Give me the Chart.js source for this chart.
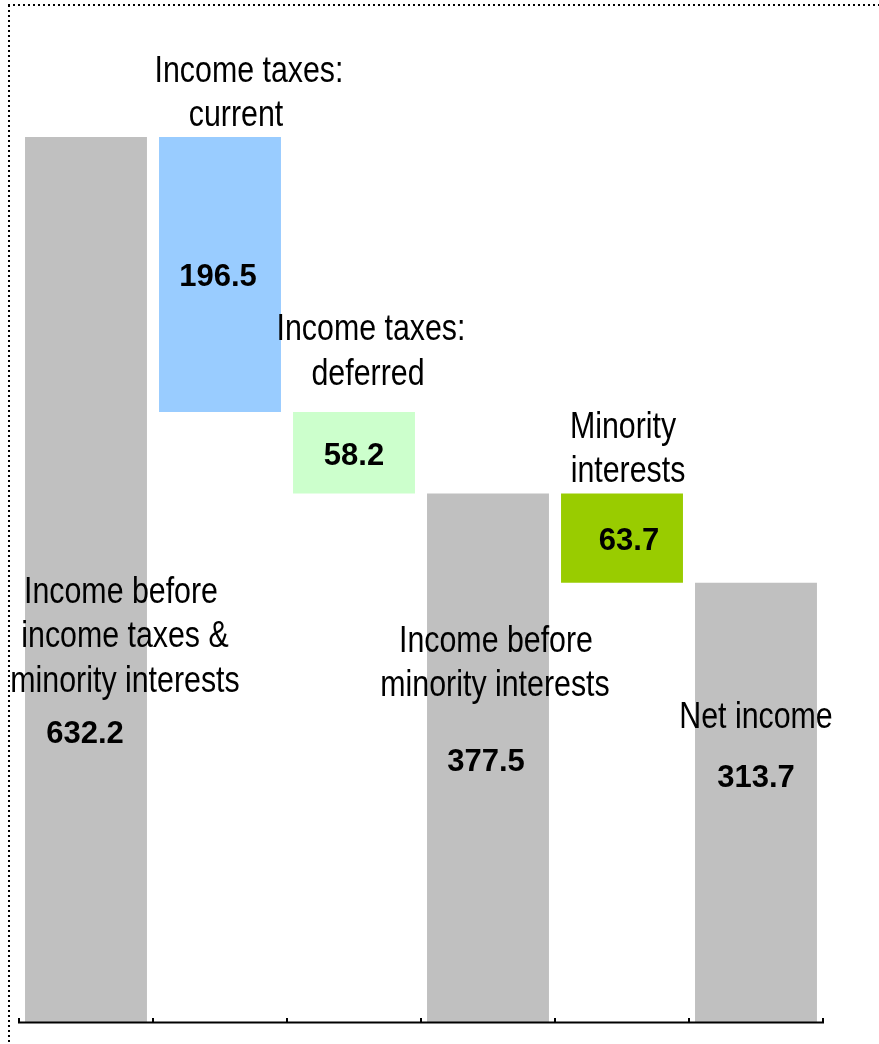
<!DOCTYPE html>
<html>
<head>
<meta charset="utf-8">
<title>Net income bridge</title>
<script src="https://cdn.jsdelivr.net/npm/chart.js@4/dist/chart.umd.min.js"></script>
<style>
  html, body { margin: 0; padding: 0; background: #ffffff; }
  #wrap { width: 879px; height: 1044px; position: relative; }
</style>
</head>
<body>
<div id="wrap"><canvas id="bridge" width="879" height="1044"></canvas></div>
<script>
// Bridge from pre-tax income to net income
const categories = [
  ["Income before", "income taxes &", "minority interests"],
  ["Income taxes:", "current"],
  ["Income taxes:", "deferred"],
  ["Income before", "minority interests"],
  ["Minority", "interests"],
  ["Net income"]
];
const amounts = [632.2, 196.5, 58.2, 377.5, 63.7, 313.7];
// "total" bars stand on zero, "decrease" bars hang from the running total
const kinds = ["total", "decrease", "decrease", "total", "decrease", "total"];
const barColors = ["#C0C0C0", "#99CCFF", "#CCFFCC", "#C0C0C0", "#99CC00", "#C0C0C0"];

// Floating [low, high] ranges for each bar
const ranges = [];
let running = 0;
amounts.forEach((v, i) => {
  if (kinds[i] === "total") {
    ranges.push([0, v]);
    running = v;
  } else {
    ranges.push([running - v, running]);
    running -= v;
  }
});

// Text placement per bar: name block offset from bar top, per-line x shift,
// value baseline (null = centred in the bar) and value x shift
const nameLayout = [
  { dy: 466, dx: [35, 39, 39] },
  { dy: -55, dx: [29, 16] },
  { dy: -72, dx: [17, 14] },
  { dy: 158, dx: [8, 7] },
  { dy: -56, dx: [1, 6] },
  { dy: 145, dx: [0] }
];
const valueLayout = [
  { dy: 606, dx: -1 },
  { dy: null, dx: -2 },
  { dy: null, dx: 0 },
  { dy: 277, dx: -2 },
  { dy: null, dx: 7 },
  { dy: 204, dx: 0 }
];

// Condensed sans for the category names (regular face squeezed horizontally)
const NAME_FONT = "37px 'Liberation Sans', Arial, sans-serif";
const NAME_SQUEEZE = 0.82;
const VALUE_FONT = "bold 31px 'Liberation Sans', Arial, sans-serif";
const LINE_GAP = 44.5;

const frame = {
  id: "frame",
  beforeDraw(chart) {
    const ctx = chart.ctx;
    ctx.save();
    ctx.fillStyle = "#ffffff";
    ctx.fillRect(0, 0, chart.width, chart.height);
    ctx.strokeStyle = "#000000";
    ctx.lineWidth = 2;
    ctx.setLineDash([2, 3]);
    ctx.beginPath();
    ctx.moveTo(8, 5);
    ctx.lineTo(chart.width, 5);
    ctx.moveTo(9, 5);
    ctx.lineTo(9, chart.height);
    ctx.stroke();
    ctx.restore();
  }
};

const baseAxis = {
  id: "baseAxis",
  afterDatasetsDraw(chart) {
    const ctx = chart.ctx;
    const xs = chart.scales.x;
    const y0 = chart.scales.y.getPixelForValue(0);
    const n = categories.length;
    const step = (xs.right - xs.left) / n;
    ctx.save();
    ctx.strokeStyle = "#000000";
    ctx.lineWidth = 2.2;
    ctx.beginPath();
    ctx.moveTo(xs.left - 1, y0 + 0.5);
    ctx.lineTo(xs.right + 1, y0 + 0.5);
    ctx.stroke();
    ctx.lineWidth = 2;
    ctx.beginPath();
    for (let i = 0; i <= n; i++) {
      const x = xs.left + i * step;
      ctx.moveTo(x, y0 + 0.5);
      ctx.lineTo(x, y0 - 4);
    }
    ctx.stroke();
    ctx.restore();
  }
};

const barText = {
  id: "barText",
  afterDatasetsDraw(chart) {
    const ctx = chart.ctx;
    const meta = chart.getDatasetMeta(0);
    ctx.save();
    ctx.fillStyle = "#000000";
    ctx.textAlign = "center";
    ctx.textBaseline = "alphabetic";
    meta.data.forEach((bar, i) => {
      const p = bar.getProps(["x", "y", "base"], true);
      const top = Math.min(p.y, p.base);
      const bottom = Math.max(p.y, p.base);
      // category name
      ctx.font = NAME_FONT;
      const nl = nameLayout[i];
      categories[i].forEach((line, k) => {
        ctx.save();
        ctx.translate(p.x + nl.dx[k], top + nl.dy + k * LINE_GAP);
        ctx.scale(NAME_SQUEEZE, 1);
        ctx.fillText(line, 0, 0);
        ctx.restore();
      });
      // value
      ctx.font = VALUE_FONT;
      const vl = valueLayout[i];
      const vy = vl.dy === null ? (top + bottom) / 2 + 12 : top + vl.dy;
      ctx.fillText(amounts[i].toFixed(1), p.x + vl.dx, vy);
    });
    ctx.restore();
  }
};

new Chart(document.getElementById("bridge"), {
  type: "bar",
  data: {
    labels: categories.map(c => c.join(" ")),
    datasets: [{
      data: ranges,
      backgroundColor: barColors,
      borderWidth: 0,
      borderSkipped: false,
      barPercentage: 0.91,
      categoryPercentage: 1.0
    }]
  },
  options: {
    responsive: false,
    animation: false,
    devicePixelRatio: 1,
    layout: { padding: { left: 19, right: 56, top: 42, bottom: 22 } },
    plugins: {
      legend: { display: false },
      tooltip: { enabled: false },
      title: { display: false }
    },
    scales: {
      x: { display: false, offset: true },
      y: { display: false, min: 0, max: 700 }
    }
  },
  plugins: [frame, baseAxis, barText]
});
</script>
</body>
</html>
